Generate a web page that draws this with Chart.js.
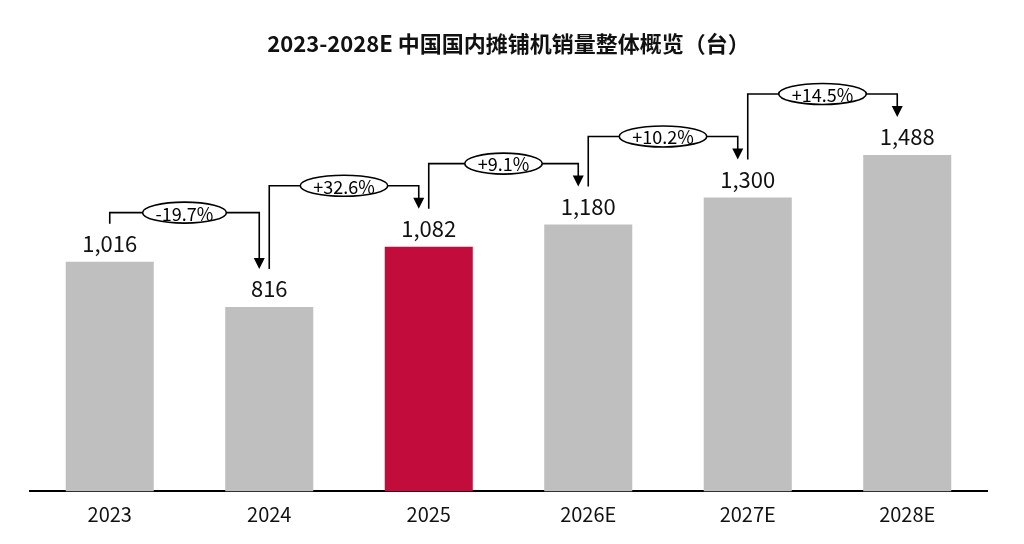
<!DOCTYPE html>
<html>
<head>
<meta charset="utf-8">
<script src="https://cdn.jsdelivr.net/npm/chart.js@4.4.1/dist/chart.umd.min.js"></script>
<style>
  html, body { margin: 0; padding: 0; background: #fff; }
  #wrap { width: 1024px; height: 544px; }
</style>
</head>
<body>
<div id="wrap"><canvas id="myChart"></canvas></div>
<script>
const years = ["2023", "2024", "2025", "2026E", "2027E", "2028E"];
const sales = [1016, 816, 1082, 1180, 1300, 1488];
const growthLabels = ["-19.7%", "+32.6%", "+9.1%", "+10.2%", "+14.5%"];
const highlightYear = "2025";

const FONT = "'Noto Sans CJK SC', 'Noto Sans', sans-serif";
const GREY = "#bfbfbf";
const RED = "#c20c3b";

/* value labels above bars */
const valueLabels = {
    id: "valueLabels",
    afterDatasetsDraw(chart) {
        const ctx = chart.ctx;
        const meta = chart.getDatasetMeta(0);
        ctx.save();
        ctx.font = "22px " + FONT;
        ctx.fillStyle = "#111";
        ctx.textAlign = "center";
        ctx.textBaseline = "middle";
        meta.data.forEach((bar, i) => {
            ctx.fillText(sales[i].toLocaleString("en-US"), bar.x, bar.y - 18);
        });
        ctx.restore();
    }
};

/* growth brackets with arrows */
const growthArrows = {
    id: "growthArrows",
    afterDatasetsDraw(chart) {
        const ctx = chart.ctx;
        const meta = chart.getDatasetMeta(0);
        ctx.save();
        ctx.strokeStyle = "#000";
        ctx.fillStyle = "#000";
        ctx.lineWidth = 1.6;
        ctx.font = "18px " + FONT;
        ctx.textAlign = "center";
        ctx.textBaseline = "middle";
        for (let i = 0; i < growthLabels.length; i++) {
            const a = meta.data[i];
            const b = meta.data[i + 1];
            const x1 = a.x;
            const x2 = b.x - 10;
            const y1 = a.y - 38;
            const y2 = b.y - 38;
            let yTop;
            if (sales[i + 1] < sales[i]) {
                yTop = y1 - 11;
            } else {
                yTop = Math.min(y1, y2) - 23;
            }
            ctx.beginPath();
            ctx.moveTo(x1, y1);
            ctx.lineTo(x1, yTop);
            ctx.lineTo(x2, yTop);
            ctx.lineTo(x2, y2 - 10);
            ctx.stroke();
            // arrow head
            ctx.beginPath();
            ctx.moveTo(x2 - 5.5, y2 - 11);
            ctx.lineTo(x2 + 5.5, y2 - 11);
            ctx.lineTo(x2, y2);
            ctx.closePath();
            ctx.fill();
            // ellipse label
            const cx = (x1 + x2) / 2;
            const tw = ctx.measureText(growthLabels[i]).width;
            ctx.beginPath();
            ctx.ellipse(cx, yTop, tw / 2 + 13, 10.5, 0, 0, Math.PI * 2);
            ctx.fillStyle = "#fff";
            ctx.fill();
            ctx.stroke();
            ctx.fillStyle = "#000";
            ctx.fillText(growthLabels[i], cx, yTop + 1);
        }
        ctx.restore();
    }
};

const ctx = document.getElementById("myChart").getContext("2d");
const myChart = new Chart(ctx, {
    type: "bar",
    data: {
        labels: years,
        datasets: [{
            data: sales,
            backgroundColor: years.map((y) => y === highlightYear ? RED : GREY),
            barPercentage: 0.552,
            categoryPercentage: 1.0
        }]
    },
    options: {
        responsive: true,
        maintainAspectRatio: false,
        animation: false,
        layout: { padding: { left: 30, right: 37, top: 0, bottom: 6.6 } },
        plugins: {
            legend: { display: false },
            tooltip: { enabled: false },
            title: {
                display: true,
                text: "2023-2028E 中国国内摊铺机销量整体概览（台）",
                color: "#111",
                font: { family: FONT, size: 22, weight: "bold" },
                padding: { top: 30, bottom: 28 }
            }
        },
        scales: {
            x: {
                grid: { display: false, drawTicks: false },
                border: { display: true, color: "#000", width: 2 },
                ticks: {
                    color: "#111",
                    padding: 11,
                    font: { family: FONT, size: 20 }
                }
            },
            y: {
                display: false,
                min: 0,
                max: 1800
            }
        }
    },
    plugins: [valueLabels, growthArrows]
});
</script>
</body>
</html>
